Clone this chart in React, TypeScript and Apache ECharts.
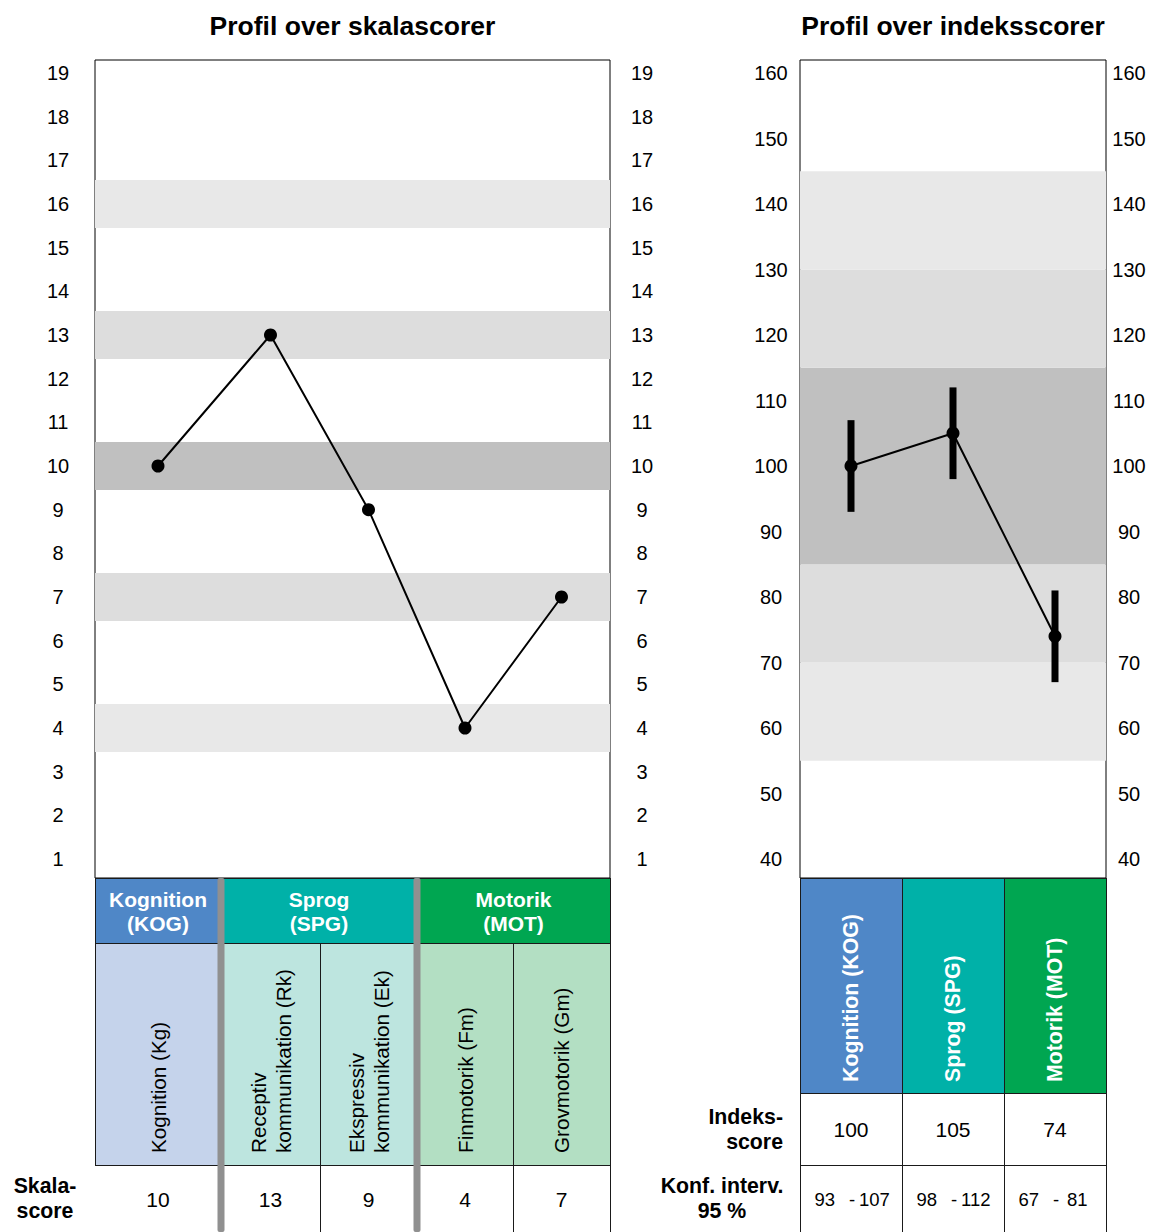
import React, { useEffect, useRef } from "react";
import * as echarts from "echarts";

// ---------- data ----------
const scaleLabels = [
  "Kognition (Kg)",
  "Receptiv\nkommunikation (Rk)",
  "Ekspressiv\nkommunikation (Ek)",
  "Finmotorik (Fm)",
  "Grovmotorik (Gm)",
];
const scaleScores = [10, 13, 9, 4, 7];
const scaleTicks = [1, 2, 3, 4, 5, 6, 7, 8, 9, 10, 11, 12, 13, 14, 15, 16, 17, 18, 19];
const scaleBandCenters = [16, 13, 10, 7, 4];
const scaleBandColors = ["#e8e8e8", "#dddddd", "#c0c0c0", "#dddddd", "#e8e8e8"];
const scaleBandHalf = 0.55;

const groupNames = ["Kognition\n(KOG)", "Sprog\n(SPG)", "Motorik\n(MOT)"];
const groupColumns = [
  [0, 0],
  [1, 2],
  [3, 4],
];
const groupColors = ["#4f87c7", "#00b1a8", "#00a651"];
const groupLightColors = ["#c5d3eb", "#bde5df", "#b3dfc3"];

const indexLabels = ["Kognition (KOG)", "Sprog (SPG)", "Motorik (MOT)"];
const indexScores = [100, 105, 74];
const ciLower = [93, 98, 67];
const ciUpper = [107, 112, 81];
const indexTicks = [40, 50, 60, 70, 80, 90, 100, 110, 120, 130, 140, 150, 160];
const indexBandEdges = [55, 70, 85, 115, 130, 145];
const indexBandColors = ["#e8e8e8", "#dddddd", "#c0c0c0", "#dddddd", "#e8e8e8"];

// ---------- layout ----------
const FONT = '"Liberation Sans", Arial, Helvetica, sans-serif';
const W = 1151;
const H = 1232;
const LG = { left: 95, top: 60, width: 515, height: 818 };
const RG = { left: 800, top: 60, width: 306, height: 818 };
const colWidths = [126, 99, 97, 96, 97];
const leftRows = { head: 878, sub: 943, val: 1165, end: 1232 };
const rightRows = { head: 878, val: 1093, ci: 1165, end: 1232 };

const colEdges: number[] = [0];
colWidths.forEach((w, i) => colEdges.push(colEdges[i] + w));
const colCenters = colWidths.map((w, i) => colEdges[i] + w / 2);

function hline(x1: number, x2: number, y: number, color = "#1a1a1a", w = 1) {
  return { type: "line", z: 50, silent: true, shape: { x1, y1: y, x2, y2: y }, style: { stroke: color, lineWidth: w } };
}
function vline(x: number, y1: number, y2: number, color = "#1a1a1a", w = 1) {
  return { type: "line", z: 50, silent: true, shape: { x1: x, y1, x2: x, y2 }, style: { stroke: color, lineWidth: w } };
}
function txt(text: string, x: number, y: number, opts: any = {}) {
  return {
    type: "text",
    z: 60,
    silent: true,
    x,
    y,
    rotation: opts.rotation || 0,
    style: {
      text,
      fill: opts.fill || "#000",
      font: `${opts.bold ? "bold " : ""}${opts.size || 21}px ${FONT}`,
      align: opts.align || "center",
      verticalAlign: "middle",
      lineHeight: opts.lineHeight || 25,
    },
  };
}

function buildGraphics() {
  const g: any[] = [];
  // titles
  g.push(txt("Profil over skalascorer", LG.left + LG.width / 2, 26, { bold: true, size: 26.5 }));
  g.push(txt("Profil over indeksscorer", RG.left + RG.width / 2, 26, { bold: true, size: 26.5 }));

  // ----- left table -----
  const lx = (c: number) => LG.left + colEdges[c];
  groupNames.forEach((name, gi) => {
    const [a, b] = groupColumns[gi];
    const x0 = lx(a);
    const x1 = lx(b + 1);
    g.push({ type: "rect", z: 40, silent: true, shape: { x: x0, y: leftRows.head, width: x1 - x0, height: leftRows.sub - leftRows.head }, style: { fill: groupColors[gi] } });
    g.push({ type: "rect", z: 40, silent: true, shape: { x: x0, y: leftRows.sub, width: x1 - x0, height: leftRows.val - leftRows.sub }, style: { fill: groupLightColors[gi] } });
    g.push(txt(name, (x0 + x1) / 2, (leftRows.head + leftRows.sub) / 2 + 1, { bold: true, size: 21, fill: "#fff", lineHeight: 24 }));
  });
  g.push(hline(LG.left, LG.left + LG.width, leftRows.head + 0.5));
  g.push(hline(LG.left, LG.left + LG.width, leftRows.sub + 0.5));
  g.push(hline(LG.left, LG.left + LG.width, leftRows.val + 0.5));
  g.push(vline(LG.left + 0.5, leftRows.head, leftRows.val));
  g.push(vline(LG.left + LG.width + 0.5, leftRows.head, leftRows.end));
  // inner column lines (within groups)
  groupColumns.forEach(([a, b]) => {
    for (let c = a + 1; c <= b; c++) g.push(vline(lx(c) + 0.5, leftRows.sub, leftRows.end));
  });
  scaleLabels.forEach((lab, i) => {
    const cx = LG.left + colCenters[i];
    g.push(txt(lab, cx, leftRows.val - 12, { rotation: Math.PI / 2, align: "left", size: 20.7 }));
    g.push(txt(String(scaleScores[i]), cx, (leftRows.val + leftRows.end) / 2 + 1, { size: 21 }));
  });
  // group separators
  groupColumns.slice(1).forEach(([a]) => {
    g.push({ type: "rect", z: 55, silent: true, shape: { x: lx(a) - 3.5, y: leftRows.head, width: 7, height: leftRows.end - leftRows.head, r: 2 }, style: { fill: "#909090" } });
  });
  g.push(txt("Skala-\nscore", 45, (leftRows.val + leftRows.end) / 2, { bold: true, size: 21.3, lineHeight: 25 }));

  // ----- right table -----
  const cw = RG.width / indexLabels.length;
  indexLabels.forEach((lab, i) => {
    const x0 = RG.left + i * cw;
    const cx = x0 + cw / 2;
    g.push({ type: "rect", z: 40, silent: true, shape: { x: x0, y: rightRows.head, width: cw, height: rightRows.val - rightRows.head }, style: { fill: groupColors[i] } });
    g.push(txt(lab, cx, rightRows.val - 11, { rotation: Math.PI / 2, align: "left", bold: true, fill: "#fff", size: 21.3 }));
    g.push(txt(String(indexScores[i]), cx, (rightRows.val + rightRows.ci) / 2, { size: 21 }));
    const cy = (rightRows.ci + rightRows.end) / 2 + 1;
    g.push(txt(String(ciLower[i]), cx - 16, cy, { size: 18.5, align: "right" }));
    g.push(txt("-", cx + 1, cy, { size: 18.5 }));
    g.push(txt(String(ciUpper[i]), cx + 8 + (ciUpper[i] < 100 ? 4 : 0), cy, { size: 18.5, align: "left" }));
  });
  g.push(hline(RG.left, RG.left + RG.width, rightRows.head + 0.5));
  g.push(hline(RG.left, RG.left + RG.width, rightRows.val + 0.5));
  g.push(hline(RG.left, RG.left + RG.width, rightRows.ci + 0.5));
  for (let i = 0; i <= indexLabels.length; i++) {
    g.push(vline(Math.round(RG.left + i * cw) + 0.5, rightRows.head, rightRows.end));
  }
  g.push(txt("Indeks-\nscore", 783, (rightRows.val + rightRows.ci) / 2, { bold: true, size: 21.3, align: "right" }));
  g.push(txt("Konf. interv.\n95 %", 722, (rightRows.ci + rightRows.end) / 2, { bold: true, size: 21.3 }));
  return g;
}

function yAxisCommon(extra: any) {
  return {
    type: "value",
    axisLine: { show: false },
    axisTick: { show: false },
    splitLine: { show: false },
    ...extra,
    axisLabel: { color: "#000", fontSize: 20, fontFamily: FONT, align: "center", ...(extra.axisLabel || {}) },
  };
}

export default function App() {
  const ref = useRef<HTMLDivElement>(null);
  useEffect(() => {
    if (!ref.current) return;
    const chart = echarts.init(ref.current, undefined, { renderer: "svg", width: W, height: H });
    const scaleMin = 10 - 412 / 43.667;
    const scaleMax = 10 + 406 / 43.667;
    const idxMin = 100 - 412 / 6.55;
    const idxMax = 100 + 406 / 6.55;
    const option: any = {
      animation: false,
      backgroundColor: "#fff",
      textStyle: { fontFamily: FONT },
      grid: [
        { left: LG.left, top: LG.top, width: LG.width, height: LG.height, show: true, borderColor: "#000", borderWidth: 1, containLabel: false },
        { left: RG.left, top: RG.top, width: RG.width, height: RG.height, show: true, borderColor: "#000", borderWidth: 1, containLabel: false },
      ],
      xAxis: [
        { type: "value", gridIndex: 0, min: 0, max: colEdges[colEdges.length - 1], show: false },
        { type: "category", gridIndex: 1, data: indexLabels, boundaryGap: true, show: false },
      ],
      yAxis: [
        yAxisCommon({ gridIndex: 0, position: "left", min: scaleMin, max: scaleMax, axisLabel: { margin: 37, customValues: scaleTicks } }),
        yAxisCommon({ gridIndex: 0, position: "right", min: scaleMin, max: scaleMax, axisLabel: { margin: 32, customValues: scaleTicks } }),
        yAxisCommon({ gridIndex: 1, position: "left", min: idxMin, max: idxMax, axisLabel: { margin: 29, customValues: indexTicks } }),
        yAxisCommon({ gridIndex: 1, position: "right", min: idxMin, max: idxMax, axisLabel: { margin: 23, customValues: indexTicks } }),
      ],
      series: [
        {
          type: "line",
          xAxisIndex: 0,
          yAxisIndex: 0,
          data: scaleScores.map((v, i) => [colCenters[i], v]),
          symbol: "circle",
          symbolSize: 13,
          itemStyle: { color: "#000" },
          lineStyle: { color: "#000", width: 2 },
          z: 10,
          silent: true,
          markArea: {
            silent: true,
            data: scaleBandCenters.map((c, i) => [
              { yAxis: c - scaleBandHalf, itemStyle: { color: scaleBandColors[i] } },
              { yAxis: c + scaleBandHalf },
            ]),
          },
        },
        {
          type: "custom",
          xAxisIndex: 1,
          yAxisIndex: 2,
          z: 5,
          silent: true,
          data: ciLower.map((lo, i) => [i, lo, ciUpper[i]]),
          encode: { x: 0, y: [1, 2] },
          renderItem: (_p: any, api: any) => {
            const a = api.coord([api.value(0), api.value(1)]);
            const b = api.coord([api.value(0), api.value(2)]);
            return {
              type: "line",
              shape: { x1: a[0], y1: a[1], x2: b[0], y2: b[1] },
              style: { stroke: "#000", lineWidth: 7 },
            };
          },
        },
        {
          type: "line",
          xAxisIndex: 1,
          yAxisIndex: 2,
          data: indexScores,
          symbol: "circle",
          symbolSize: 13,
          itemStyle: { color: "#000" },
          lineStyle: { color: "#000", width: 2 },
          z: 10,
          silent: true,
          markArea: {
            silent: true,
            data: indexBandColors.map((col, i) => [
              { yAxis: indexBandEdges[i], itemStyle: { color: col } },
              { yAxis: indexBandEdges[i + 1] },
            ]),
          },
        },
      ],
      graphic: buildGraphics(),
    };
    chart.setOption(option);
    return () => chart.dispose();
  }, []);
  return <div ref={ref} style={{ position: "absolute", left: 0, top: 0, width: W, height: H }} />;
}
